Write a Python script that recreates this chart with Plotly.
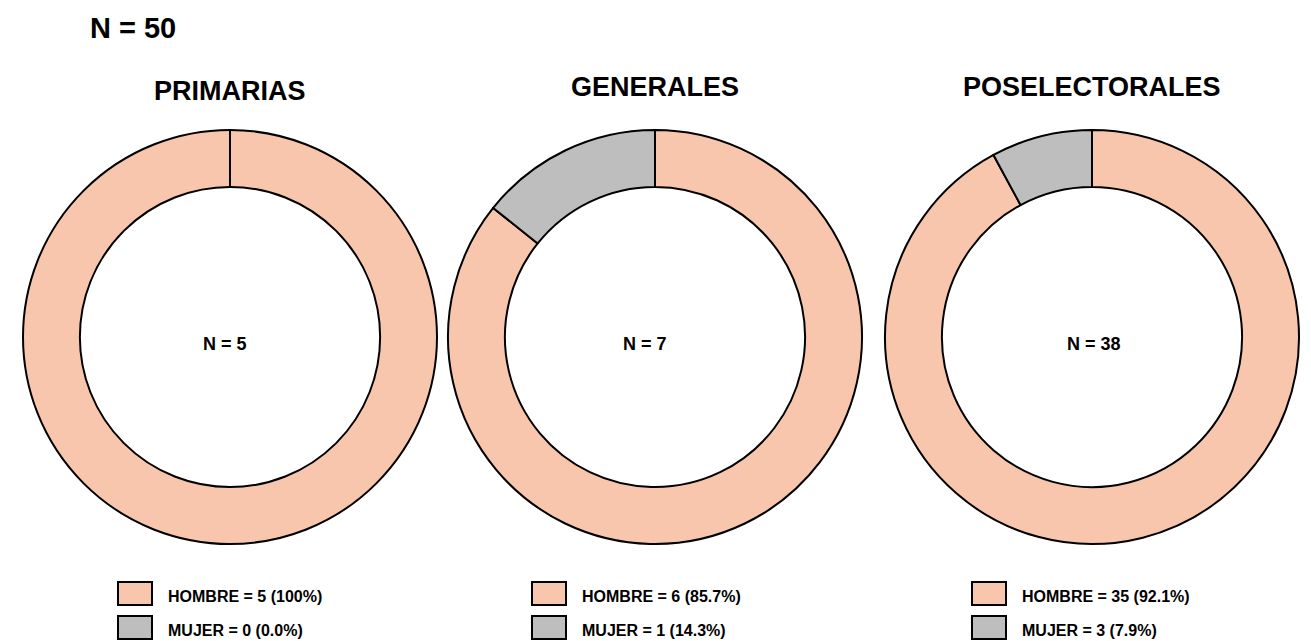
import plotly.graph_objects as go

W, H = 1311, 641

# data
panels = ["PRIMARIAS", "GENERALES", "POSELECTORALES"]
categories = ["HOMBRE", "MUJER"]
hombre = [5, 6, 35]
mujer = [0, 1, 3]
total_n = 50

colors = ["#F8C6AD", "#BEBEBE"]

# layout helpers (pixels)
centers_x = [230, 655, 1092]
center_y = 337
radius = 207
title_y = [91, 87, 87]
label_x = [225, 645, 1094]
legend_left = [118, 532, 972]

fig = go.Figure()


def px_x(v):
    return v / W


def px_y(v):
    return 1 - v / H


for i, name in enumerate(panels):
    vals = [hombre[i], mujer[i]]
    n = sum(vals)
    cx = centers_x[i]
    fig.add_trace(
        go.Pie(
            labels=categories,
            values=vals,
            hole=0.725,
            sort=False,
            direction="clockwise",
            rotation=0,
            textinfo="none",
            hoverinfo="label+value+percent",
            marker=dict(colors=colors, line=dict(color="black", width=2)),
            domain=dict(
                x=[px_x(cx - radius), px_x(cx + radius)],
                y=[px_y(center_y + radius), px_y(center_y - radius)],
            ),
            showlegend=False,
        )
    )

    # N inside the donut
    fig.add_annotation(
        x=px_x(label_x[i]), y=px_y(344), xref="paper", yref="paper",
        text=f"N = {n}", showarrow=False, xanchor="center", yanchor="middle",
        font=dict(family="Liberation Sans", size=18, color="black", weight="bold"),
    )

    # panel title
    fig.add_annotation(
        x=px_x(cx), y=px_y(title_y[i]), xref="paper", yref="paper",
        text=name, showarrow=False, xanchor="center", yanchor="middle",
        font=dict(family="Liberation Sans", size=27, color="black", weight="bold"),
    )

    # legend swatches + labels
    for j, cat in enumerate(categories):
        v = vals[j]
        pct = 100 * v / n if n else 0
        pct_txt = "100%" if pct == 100 else f"{pct:.1f}%"
        top = 582 + j * 34
        lx = legend_left[i]
        fig.add_shape(
            type="rect", xref="paper", yref="paper",
            x0=px_x(lx), x1=px_x(lx + 34),
            y0=px_y(top + 23), y1=px_y(top),
            fillcolor=colors[j], line=dict(color="black", width=2),
        )
        fig.add_annotation(
            x=px_x(lx + 48), y=px_y(top + 14), xref="paper", yref="paper",
            text=f"{cat} = {v} ({pct_txt})", showarrow=False,
            xanchor="left", yanchor="middle",
            font=dict(family="Liberation Sans", size=16, color="black", weight="bold"),
        )

fig.add_annotation(
    x=px_x(88), y=px_y(28), xref="paper", yref="paper",
    text=f"N = {total_n}", showarrow=False, xanchor="left", yanchor="middle",
    font=dict(family="Liberation Sans", size=29, color="black", weight="bold"),
)

fig.update_layout(
    width=W, height=H,
    margin=dict(l=0, r=0, t=0, b=0),
    paper_bgcolor="white",
    plot_bgcolor="white",
)

fig.write_html(
    "out.html",
    config={"displayModeBar": False},
    post_script="document.body.style.margin='0';document.body.style.overflow='hidden';",
)
